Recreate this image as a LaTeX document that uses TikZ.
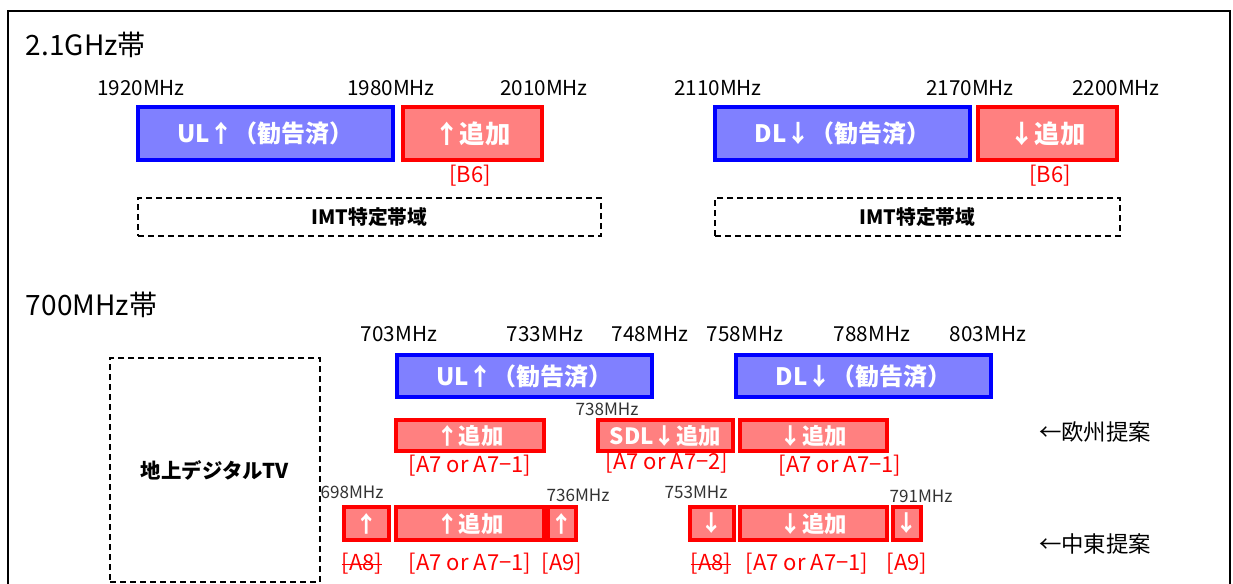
\documentclass[tikz,border=0pt]{standalone}
\usepackage{fontspec}
\setmainfont{Noto Sans CJK JP}
\usetikzlibrary{positioning}
\definecolor{ulfill}{HTML}{8080FF}
\definecolor{ulline}{HTML}{0000FF}
\definecolor{adfill}{HTML}{FF8080}
\definecolor{adline}{HTML}{FF0000}
\definecolor{lbred}{HTML}{FF0000}
\definecolor{smgray}{HTML}{333333}
\newcommand{\pxfont}[1]{\fontsize{#1}{#1}\selectfont}
% box macro: name, x1, y1, x2, y2, style, text
\newcommand{\bandbox}[7]{%
  \node[#6, minimum width={(#4-#2)*0.75pt}, minimum height={(#5-#3)*0.75pt}]
    (#1) at ({(#2+#4)/2},{(#3+#5)/2}) {#7};}
\tikzset{
  x=0.75pt, y=-0.75pt,
  every node/.style={inner sep=0pt, outer sep=0pt},
  bluebox/.style={draw=ulline, fill=ulfill, line width=2.5pt, text=white, font=\bfseries\pxfont{18pt}},
  redbox/.style={draw=adline, fill=adfill, line width=2.5pt, text=white, font=\bfseries\pxfont{19pt}},
  redboxs/.style={draw=adline, fill=adfill, line width=2.5pt, text=white, font=\bfseries\pxfont{16.8pt}},
  dashbox/.style={draw=black, dashed, dash pattern=on 4.5pt off 3pt, line width=1pt, font=\bfseries\pxfont{14.8pt}},
  tvbox/.style={dashbox, font=\bfseries\pxfont{15.3pt}},
  title/.style={anchor=west, font=\pxfont{21pt}},
  freq/.style={font=\pxfont{15.5pt}},
  sfreq/.style={font=\pxfont{12.8pt}, text=smgray},
  redlab/.style={font=\pxfont{16.5pt}, text=lbred},
  prop/.style={font=\pxfont{16.8pt}},
}
\begin{document}
\begin{tikzpicture}
\useasboundingbox (0,0) rectangle (1233,583);
\fill[white] (0,0) rectangle (1233,583);
% frame
\draw[line width=1.6pt] (8,600) -- (8,11) -- (1230,11) -- (1230,600);

% ---------- 2.1 GHz ----------
\node[title] (t21) at (26,45) {2.1GHz帯};
\node[freq] (f1920) at (141,88) {1920MHz};
\node[freq] (f1980) at (391,88) {1980MHz};
\node[freq] (f2010) at (544,88) {2010MHz};
\node[freq] (f2110) at (718,88) {2110MHz};
\node[freq] (f2170) at (970,88) {2170MHz};
\node[freq] (f2200) at (1116,88) {2200MHz};

\bandbox{ul21}{138}{107}{393}{160}{bluebox}{UL↑（勧告済）}
\bandbox{ad21u}{403}{107}{542}{160}{redbox}{↑追加}
\bandbox{dl21}{715}{107}{970}{160}{bluebox}{DL↓（勧告済）}
\bandbox{ad21d}{978}{107}{1117}{160}{redbox}{↓追加}
\node[redlab] (b6a) at (470,176) {[B6]};
\node[redlab] (b6b) at (1050,176) {[B6]};

\bandbox{imt1}{138}{198}{601}{236}{dashbox}{IMT特定帯域}
\bandbox{imt2}{715}{198}{1120}{236}{dashbox}{IMT特定帯域}

% ---------- 700 MHz ----------
\node[title] (t700) at (26,305) {700MHz帯};
\node[freq] (f703) at (399,334) {703MHz};
\node[freq] (f733) at (545,334) {733MHz};
\node[freq] (f748) at (650,334) {748MHz};
\node[freq] (f758) at (745,334) {758MHz};
\node[freq] (f788) at (872,334) {788MHz};
\node[freq] (f803) at (988,334) {803MHz};

\bandbox{ul7}{397}{355}{652}{397}{bluebox}{UL↑（勧告済）}
\bandbox{dl7}{736}{355}{991}{397}{bluebox}{DL↓（勧告済）}

\bandbox{dtv}{110}{358}{320}{582}{tvbox}{地上デジタルTV}

% Europe proposal
\node[sfreq] (f738) at (607,409) {738MHz};
\bandbox{eu1}{396}{420}{544}{451}{redboxs}{↑追加}
\bandbox{eu2}{598}{420}{733}{451}{redboxs}{SDL↓追加}
\bandbox{eu3}{740}{420}{887}{451}{redboxs}{↓追加}
\node[redlab] (leu1) at (470,466) {[A7 or A7−1]};
\node[redlab] (leu2) at (667,463) {[A7 or A7−2]};
\node[redlab] (leu3) at (840,466) {[A7 or A7−1]};
\node[prop] (peu) at (1095,432) {←欧州提案};

% Middle East proposal
\node[sfreq] (f698) at (352,492) {698MHz};
\node[sfreq] (f736) at (578,495) {736MHz};
\node[sfreq] (f753) at (696,492) {753MHz};
\node[sfreq] (f791) at (921,496) {791MHz};
\bandbox{me1}{344}{507}{389}{540}{redboxs}{↑}
\bandbox{me2}{396}{507}{544}{540}{redboxs}{↑追加}
\bandbox{me3}{548}{507}{576}{540}{redboxs}{↑}
\bandbox{me4}{690}{507}{734}{540}{redboxs}{↓}
\bandbox{me5}{740}{507}{887}{540}{redboxs}{↓追加}
\bandbox{me6}{893}{507}{921}{540}{redboxs}{↓}
\node[redlab] (lme1) at (362,564) {[A8]};
\node[redlab] (lme2) at (470,564) {[A7 or A7−1]};
\node[redlab] (lme3) at (562,564) {[A9]};
\node[redlab] (lme4) at (711,564) {[A8]};
\node[redlab] (lme5) at (807,564) {[A7 or A7−1]};
\node[redlab] (lme6) at (907,564) {[A9]};
\draw[lbred, line width=0.8pt] ([yshift=-0.5pt]lme1.west) -- ([yshift=-0.5pt]lme1.east);
\draw[lbred, line width=0.8pt] ([yshift=-0.5pt]lme4.west) -- ([yshift=-0.5pt]lme4.east);
\node[prop] (pme) at (1095,544) {←中東提案};
\end{tikzpicture}
\end{document}
